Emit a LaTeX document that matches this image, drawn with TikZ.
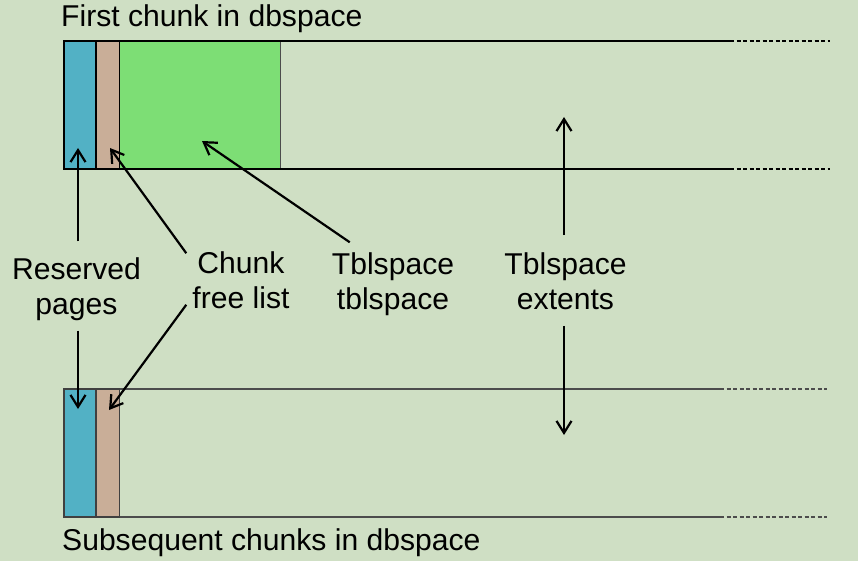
\documentclass[tikz,border=0pt]{standalone}
\usepackage{fontspec}
\setmainfont{Liberation Sans}
\usepackage{tikz}
\usetikzlibrary{arrows.meta,positioning,calc}
\usepackage{xcolor}

\definecolor{bgcol}{HTML}{CFDFC4}
\definecolor{rsvcol}{HTML}{52B1C5}
\definecolor{flcol}{HTML}{C9AE98}
\definecolor{tblcol}{HTML}{7DDE75}

\begin{document}
\begin{tikzpicture}[
    x=1pt, y=-1pt,
    lbl/.style={inner sep=0pt, align=center, font=\fontsize{30.1}{35}\selectfont},
    title/.style={inner sep=0pt, anchor=base west, font=\fontsize{30.1}{35}\selectfont},
    part/.style={draw=black, line width=1.3pt},
    edge/.style={line width=1.3pt},
    tail/.style={line width=1.3pt, dash pattern=on 4pt off 2.5pt},
    arrow/.style={-{Straight Barb[length=12pt, width=15pt]}, line width=2.2pt}
]

% background and margins
\fill[bgcol] (0,0) rectangle (858,561);
\useasboundingbox (0,0) rectangle (858,561);

% first chunk
\fill[tblcol] (119.7,41) rectangle (280,169);
\draw[black!70, line width=1pt] (280,41) -- (280,169);
\draw[part, fill=rsvcol] (64,41) rectangle (96,169);
\draw[part, fill=flcol] (96,41) rectangle (119.7,169);
\draw[edge] (64,41) -- (730,41);
\draw[edge] (64,169) -- (730,169);
\draw[tail] (730,41) -- (830,41);
\draw[tail] (730,169) -- (830,169);

% subsequent chunk
\draw[part, draw=black!75, fill=rsvcol] (64,389) rectangle (96,517);
\draw[part, draw=black!75, fill=flcol] (96,389) rectangle (119.7,517);
\draw[edge, black!70] (119.7,389) -- (720,389);
\draw[edge, black!70] (119.7,517) -- (720,517);
\draw[tail, black!70] (720,389) -- (827,389);
\draw[tail, black!70] (720,517) -- (827,517);

\node[title] (first) at (61,27) {First chunk in dbspace};
\node[title] (later) at (62,550) {Subsequent chunks in dbspace};

\node[lbl] (resv) at (76.5,289) {Reserved\\pages};
\node[lbl] (chunk) at (241,280) {Chunk\\free list};
\node[lbl] (tbl) at (393,284) {Tblspace\\tblspace};
\node[lbl] (ext) at (565.5,281) {Tblspace\\extents};

\coordinate (rsvtop) at (78,148);
\coordinate (rsvbot) at (78,409);
\coordinate (fltop) at (110,148);
\coordinate (flbot) at (109,410);
\coordinate (tbltip) at (202,141);
\coordinate (exttop) at (564,117);
\coordinate (extbot) at (564,435);

\draw[arrow, shorten <=16pt] (resv.north -| rsvtop) -- (rsvtop);
\draw[arrow, shorten <=10pt] (resv.south -| rsvbot) -- (rsvbot);
\draw[arrow] ([xshift=-6pt, yshift=-2pt]chunk.north west) -- (fltop);
\draw[arrow] ([xshift=-6pt, yshift=4pt]chunk.south west) -- (flbot);
\draw[arrow] ([xshift=18pt, yshift=10pt]tbl.north west) -- (tbltip);
\draw[arrow, shorten <=17pt] (ext.north -| exttop) -- (exttop);
\draw[arrow, shorten <=16pt] (ext.south -| extbot) -- (extbot);

\end{tikzpicture}
\end{document}
